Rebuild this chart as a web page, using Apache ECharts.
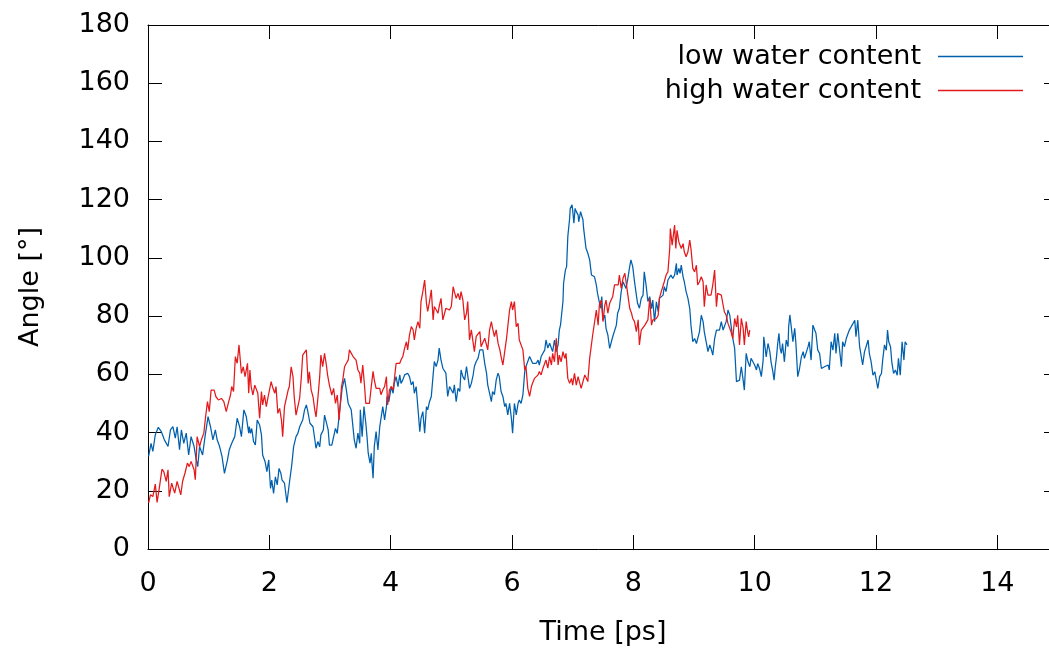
<!DOCTYPE html>
<html>
<head>
<meta charset="utf-8">
<script src="https://cdn.jsdelivr.net/npm/echarts@6/dist/echarts.min.js"></script>
<style>
  html, body { margin: 0; padding: 0; background: #ffffff; }
  #chart { width: 1049px; height: 649px; }
</style>
</head>
<body>
<div id="chart"></div>
<script>
// Dihedral angle vs. simulation time, [time (ps), angle (deg)]
const lowWater = [
  [0.01,31.8],[0.05,36.3],[0.08,33.5],[0.12,39.2],[0.17,41.8],[0.22,40.3],[0.27,37.5],[0.33,35.2],[0.37,40.9],[0.41,42.0],
  [0.45,38.1],[0.48,42.0],[0.52,34.1],[0.55,40.9],[0.59,36.3],[0.63,39.8],[0.67,32.3],[0.71,38.6],[0.76,35.2],[0.79,31.2],
  [0.82,28.3],[0.85,35.2],[0.90,32.3],[0.94,38.6],[0.99,45.5],[1.03,42.0],[1.07,37.5],[1.11,40.9],[1.14,37.5],[1.18,35.2],
  [1.22,31.8],[1.26,26.0],[1.31,30.6],[1.34,34.1],[1.38,36.3],[1.43,38.6],[1.47,44.9],[1.51,42.0],[1.54,38.6],[1.58,47.8],
  [1.62,45.5],[1.66,39.8],
  [1.67,42.0],[1.69,39.7],[1.71,41.4],[1.74,36.9],[1.77,35.7],[1.80,44.3],[1.84,42.6],[1.87,39.2],[1.89,32.3],[1.93,30.0],
  [1.96,26.6],[1.99,30.6],[2.02,20.8],[2.04,23.7],[2.07,19.1],[2.10,24.8],[2.13,22.0],[2.16,27.7],[2.19,26.0],[2.21,23.7],
  [2.25,22.6],[2.29,15.9],[2.33,22.6],[2.37,28.9],[2.40,35.1],[2.44,38.6],[2.47,39.7],[2.50,42.0],[2.53,41.4],[2.55,44.3],
  [2.58,47.7],[2.61,49.5],[2.63,47.7],[2.67,43.2],[2.69,42.6],[2.72,42.0],[2.75,42.0],[2.77,34.6],[2.80,36.9],[2.83,35.1],
  [2.85,39.2],[2.89,40.9],[2.91,46.0],[2.94,45.4],[2.97,40.9],[2.99,35.7],[3.03,35.7],[3.06,36.3],[3.09,41.4],[3.12,39.7],
  [3.16,47.7],[3.20,55.2],[3.24,58.6],[3.27,54.6],[3.30,50.0],
  [3.32,50.6],[3.35,47.8],[3.38,47.2],[3.40,37.5],[3.43,34.6],[3.46,39.8],[3.49,36.3],[3.50,47.8],[3.53,38.6],[3.56,48.9],
  [3.59,43.2],[3.61,38.6],[3.63,32.9],[3.66,29.5],[3.68,32.9],[3.71,24.3],[3.73,35.2],[3.76,40.3],[3.79,34.0],[3.82,42.0],
  [3.84,41.5],[3.87,48.9],[3.90,44.3],[3.93,48.9],[3.94,52.4],[3.97,50.6],[4.01,55.8],[4.04,53.5],[4.06,56.9],[4.09,59.2],
  [4.12,55.8],[4.15,59.8],[4.17,56.9],[4.20,58.1],[4.23,59.8],[4.26,60.4],[4.28,60.4],[4.31,59.2],[4.34,56.4],[4.37,57.5],
  [4.39,53.5],[4.42,55.8],[4.45,48.3],[4.48,40.3],[4.50,44.9],[4.53,47.2],[4.56,39.8],[4.59,48.9],[4.61,47.8],[4.64,50.6],
  [4.67,52.4],[4.70,59.8],[4.72,64.4],[4.75,62.7],[4.78,64.9],[4.80,69.0],[4.83,64.9],[4.86,62.1],[4.89,62.7],[4.91,60.4],
  [4.94,52.4],[4.97,55.8],
  [5.00,55.8],[5.03,53.5],[5.05,56.4],[5.08,50.6],[5.11,55.2],[5.14,54.1],[5.16,61.5],[5.19,59.2],[5.22,58.1],[5.25,62.7],
  [5.27,62.1],[5.30,55.2],[5.33,56.9],[5.36,59.8],[5.38,62.7],[5.41,64.4],[5.44,65.5],[5.47,68.4],[5.49,68.4],[5.52,68.4],
  [5.55,63.8],[5.58,60.4],[5.60,56.4],[5.63,55.8],[5.66,50.6],[5.68,54.1],[5.71,53.0],[5.74,58.1],[5.77,60.4],[5.79,59.2],
  [5.82,54.1],[5.85,52.4],[5.88,48.9],[5.90,50.0],[5.93,46.1],[5.96,50.0],[5.99,44.9],[6.01,39.8],[6.04,50.0],[6.07,46.1],
  [6.10,50.0],[6.12,51.2],[6.15,50.0],[6.18,53.0],[6.21,61.0],[6.23,62.7],[6.26,63.2],[6.29,66.1],[6.32,66.7],[6.34,63.8],
  [6.37,63.2],[6.40,63.8],[6.43,64.9],[6.45,63.2],[6.48,66.1],[6.51,65.5],[6.54,68.4],[6.56,71.8],[6.59,69.0],[6.62,70.7],
  [6.65,70.6],[6.67,67.8],[6.70,71.8],[6.73,67.8],[6.76,70.1],[6.78,75.2],[6.80,77.0],[6.82,77.5],[6.84,85.0],[6.85,91.2],
  [6.88,95.8],[6.90,97.0],[6.92,107.3],[6.95,113.6],[6.96,117.0],[6.99,118.2],[7.00,116.4],[7.02,111.9],[7.04,117.0],[7.06,115.9],
  [7.09,114.7],[7.10,112.4],[7.13,115.9],[7.15,116.4],[7.17,113.0],[7.18,110.2],[7.21,105.0],[7.22,103.3],[7.25,101.6],[7.28,99.3],
  [7.31,94.1],[7.33,93.5],[7.36,93.5],[7.39,90.7],[7.41,87.8],[7.44,87.2],[7.46,82.7],[7.48,86.7],[7.50,78.7],[7.53,80.4],
  [7.55,75.8],[7.58,73.5],[7.61,68.9],[7.63,69.5],[7.66,72.9],[7.69,72.4],[7.72,76.9],[7.74,80.9],[7.77,82.7],[7.80,88.4],
  [7.83,91.8],[7.85,92.4],[7.88,89.5],[7.91,93.0],[7.94,97.0],[7.96,99.3],[7.99,97.0],[8.02,91.8],[8.05,87.2],[8.07,84.4],
  [8.10,82.7],[8.13,86.1],[8.16,87.2],[8.18,95.2],[8.21,90.7],[8.24,85.0],[8.27,86.7],
  [8.30,82.6],[8.32,85.5],[8.35,78.1],[8.38,84.9],[8.41,81.5],[8.43,86.1],[8.46,86.6],[8.49,87.2],[8.51,90.1],[8.54,88.4],
  [8.57,92.4],[8.60,92.9],[8.62,94.1],[8.65,92.9],[8.68,94.1],[8.71,98.1],[8.72,94.1],[8.75,96.4],[8.77,94.7],[8.79,97.5],
  [8.82,93.5],[8.84,91.8],[8.87,88.4],[8.90,86.1],[8.93,82.6],[8.95,76.9],[8.98,71.2],[9.01,72.3],[9.04,70.6],[9.06,71.2],
  [9.09,74.6],[9.12,80.3],[9.15,78.1],[9.17,74.6],[9.20,71.2],[9.23,67.8],[9.26,70.1],[9.28,68.9],[9.31,66.6],[9.34,72.3],
  [9.37,75.2],[9.39,75.8],[9.42,75.2],[9.45,78.1],[9.48,75.2],[9.50,75.8],[9.53,78.1],[9.56,82.1],[9.59,80.3],[9.61,76.9],
  [9.64,72.3],[9.67,68.9],[9.70,57.5],[9.72,57.5],[9.75,58.0],[9.78,62.6],[9.81,58.0],[9.83,54.6],[9.86,67.2],[9.89,64.3],
  [9.92,62.6],[9.94,65.5],[9.97,66.0],[10.00,63.2],[10.03,61.5],[10.05,63.7],[10.08,62.0],[10.11,59.2],[10.14,64.9],[10.15,72.9],
  [10.17,69.5],[10.19,66.0],[10.22,70.6],[10.25,67.8],[10.27,64.3],[10.30,60.9],[10.32,58.0],[10.34,62.6],[10.36,66.0],[10.38,70.6],
  [10.40,74.1],[10.42,68.9],[10.44,67.2],[10.46,70.6],[10.49,64.3],[10.52,71.8],[10.55,69.5],[10.56,76.3],[10.58,80.4],[10.60,76.9],
  [10.63,71.2],[10.66,75.8],[10.68,70.6],[10.71,59.2],[10.74,62.0],[10.77,66.0],[10.80,67.8],[10.82,65.5],[10.85,64.9],[10.88,69.5],
  [10.90,71.2],[10.93,64.9],[10.96,76.9],[10.99,75.2],[11.01,74.1],[11.04,68.3],[11.07,67.2],[11.10,62.0],[11.12,61.5],[11.15,62.6],
  [11.18,62.0],[11.21,63.2],[11.23,61.5],[11.26,71.2],[11.29,68.3],[11.32,74.1],[11.34,67.2],[11.37,74.1],[11.40,74.6],[11.43,62.6],
  [11.45,71.2],[11.48,69.5],[11.51,72.3],[11.54,72.9],
  [11.56,75.2],[11.59,76.3],[11.62,76.3],[11.65,78.6],[11.67,72.9],[11.70,78.6],[11.73,69.5],[11.76,69.5],[11.78,63.2],[11.81,67.7],
  [11.84,67.7],[11.87,71.8],[11.89,67.2],[11.92,64.3],[11.95,59.7],[11.98,60.9],[12.00,58.6],[12.03,55.2],[12.06,59.2],[12.09,60.3],
  [12.11,64.9],[12.14,70.1],[12.17,68.3],[12.19,75.2],[12.21,71.2],[12.24,69.5],[12.26,64.3],[12.29,60.3],[12.32,61.5],[12.35,59.7],
  [12.37,65.5],[12.40,59.7],[12.43,71.2],[12.46,64.9],[12.48,71.2],[12.51,70.1]
];

const highWater = [
  [0.01,15.8],[0.04,18.6],[0.08,18.0],[0.12,22.3],[0.15,16.0],[0.19,21.4],[0.23,27.4],[0.26,26.6],[0.30,23.2],[0.33,27.2],
  [0.35,18.0],[0.39,22.6],[0.44,19.2],[0.48,23.2],[0.51,20.9],[0.54,18.6],[0.57,23.2],[0.61,26.1],[0.65,29.5],[0.68,28.3],
  [0.71,30.1],[0.76,27.2],[0.78,23.8],[0.81,38.6],[0.85,35.2],[0.88,37.5],[0.92,39.8],[0.95,45.5],[0.98,50.6],[1.01,47.2],
  [1.04,54.6],[1.09,54.6],[1.12,52.3],[1.16,51.2],[1.21,51.7],[1.25,50.6],[1.29,47.2],[1.33,50.6],[1.36,52.9],[1.38,55.8],
  [1.41,54.1],[1.44,66.1],[1.47,63.8],[1.50,70.1],[1.54,60.3],[1.57,62.6],[1.60,59.2],[1.64,63.8],[1.66,53.5],
  [1.68,61.5],[1.70,55.8],[1.73,52.9],[1.76,56.3],[1.78,56.9],[1.81,53.5],[1.84,44.9],[1.87,54.1],[1.89,49.5],[1.92,52.9],
  [1.95,48.9],[1.98,52.3],[2.00,51.8],[2.03,57.5],[2.06,55.2],[2.09,53.5],[2.11,55.8],[2.14,46.6],[2.17,48.3],[2.20,44.3],
  [2.22,38.6],[2.25,48.9],[2.28,49.5],[2.31,54.6],[2.33,55.8],[2.36,62.6],[2.39,59.2],[2.41,52.3],[2.44,46.0],[2.47,48.9],
  [2.50,51.8],[2.53,59.8],[2.55,66.6],[2.58,67.2],[2.61,68.4],[2.64,56.9],[2.66,60.9],[2.69,54.6],[2.72,52.3],[2.75,47.7],
  [2.77,45.4],[2.80,51.8],[2.83,59.2],[2.85,66.6],[2.88,62.6],[2.91,67.2],[2.94,63.2],[2.96,59.8],[2.99,56.3],[3.03,52.9],
  [3.06,55.2],[3.09,50.0],[3.12,52.9],[3.15,44.3],[3.19,55.8],[3.21,58.0],[3.24,62.6],[3.27,63.8],[3.30,64.9],
  [3.32,68.4],[3.35,67.8],[3.38,66.1],[3.40,66.7],[3.43,64.9],[3.46,61.5],[3.49,60.4],[3.51,57.0],[3.54,63.2],[3.57,55.8],
  [3.59,50.0],[3.62,50.6],[3.65,50.0],[3.68,55.8],[3.71,61.0],[3.73,58.1],[3.76,55.2],[3.79,55.8],[3.82,55.2],[3.84,53.0],
  [3.87,54.6],[3.90,55.8],[3.93,59.2],[3.95,49.5],[3.98,54.6],[4.01,55.8],[4.04,54.6],[4.06,58.1],[4.09,63.8],[4.12,63.8],
  [4.15,63.8],[4.17,64.9],[4.20,66.1],[4.23,69.0],[4.26,71.2],[4.28,68.4],[4.31,73.5],[4.34,76.4],[4.37,75.3],[4.39,71.8],
  [4.42,75.8],[4.45,78.1],[4.48,75.8],[4.50,85.0],[4.53,88.4],[4.56,92.4],[4.59,84.4],[4.61,81.6],[4.64,85.0],[4.67,89.0],
  [4.70,78.7],[4.72,83.3],[4.75,83.3],[4.78,81.0],[4.80,83.3],[4.83,86.1],[4.86,78.7],[4.89,78.7],[4.91,82.7],[4.94,82.7],
  [4.97,82.1],[5.00,83.3],[5.03,90.1],[5.05,88.4],[5.08,86.1],[5.11,87.8],[5.14,85.6],[5.16,88.4],[5.19,85.6],[5.22,78.7],
  [5.25,81.0],[5.27,85.0],[5.30,71.8],[5.33,75.3],[5.36,74.7],[5.38,67.8],[5.41,73.0],[5.44,73.5],[5.47,74.7],[5.49,69.5],
  [5.52,69.0],[5.55,72.4],[5.58,70.1],[5.60,68.4],[5.63,75.3],[5.66,78.1],[5.68,75.8],[5.71,73.0],[5.74,75.3],[5.77,70.7],
  [5.80,68.4],[5.82,66.1],[5.85,63.2],[5.88,67.8],[5.91,72.4],[5.93,71.8],[5.96,82.1],[5.99,85.0],[6.01,82.1],[6.04,85.0],
  [6.07,76.4],[6.10,77.5],[6.12,71.8],[6.15,71.2],[6.18,68.4],[6.21,61.5],[6.23,62.7],[6.26,55.2],[6.29,52.4],[6.32,55.8],
  [6.34,57.0],[6.37,58.6],[6.40,58.1],[6.43,59.8],[6.45,61.0],[6.48,59.8],[6.51,62.1],[6.54,63.8],[6.56,64.9],[6.59,62.1],
  [6.62,66.1],[6.65,63.2],[6.67,67.2],[6.70,64.3],[6.73,72.4],[6.76,63.2],[6.78,66.6],[6.81,64.3],[6.84,67.8],[6.87,65.5],
  [6.89,67.2],[6.92,58.6],[6.95,56.9],[6.98,58.6],[7.00,56.3],[7.03,60.3],[7.06,56.3],[7.09,59.2],[7.11,57.5],[7.14,55.2],
  [7.17,57.5],[7.20,59.8],[7.22,59.2],[7.25,57.5],[7.28,65.5],[7.31,65.5],[7.33,73.5],[7.36,74.1],[7.39,82.1],[7.42,76.9],
  [7.44,83.8],[7.47,85.5],[7.50,78.1],[7.53,83.8],[7.55,85.5],[7.58,81.0],[7.61,84.4],[7.64,83.8],[7.66,86.7],[7.69,90.7],
  [7.72,91.2],[7.75,90.7],[7.77,94.1],[7.80,89.5],[7.83,93.0],[7.86,94.7],[7.88,91.8],[7.91,87.2],[7.94,82.7],[7.97,81.0],
  [7.99,79.2],[8.02,78.1],[8.05,74.7],[8.08,78.7],[8.10,70.1],[8.13,75.2],[8.16,75.8],[8.19,76.9],[8.21,77.5],[8.24,78.7],
  [8.27,86.1],
  [8.30,76.9],[8.32,78.6],[8.35,78.1],[8.38,79.2],[8.41,80.3],[8.43,86.1],[8.46,88.4],[8.49,88.9],[8.51,91.8],[8.54,94.1],
  [8.57,95.2],[8.60,103.2],[8.61,110.1],[8.64,104.4],[8.66,107.8],[8.68,111.3],[8.70,103.2],[8.72,109.5],[8.75,105.5],[8.77,106.1],
  [8.79,103.2],[8.82,104.9],[8.84,102.1],[8.87,100.4],[8.90,102.1],[8.93,106.1],[8.95,103.2],[8.98,96.4],[9.01,95.2],[9.04,97.5],
  [9.06,90.7],[9.09,91.8],[9.12,93.5],[9.15,91.8],[9.17,83.2],[9.20,90.7],[9.23,87.2],[9.26,87.8],[9.28,87.2],[9.31,90.7],
  [9.34,95.8],[9.37,83.2],[9.39,87.8],[9.42,87.2],[9.45,87.2],[9.48,87.2],[9.50,81.5],[9.53,80.3],[9.56,77.5],[9.59,78.1],
  [9.61,74.6],[9.64,72.3],[9.67,79.2],[9.70,76.3],[9.72,80.3],[9.75,70.1],[9.78,79.2],[9.81,75.8],[9.83,70.1],[9.86,78.1],
  [9.88,75.2],[9.90,72.9],[9.92,75.2]
];

const seriesNames = ['low water content', 'high water content'];
const seriesColors = ['#0060ad', '#e3191c'];

// axis ranges and tick spacing
const xRange = [0, 15], xStep = 2;
const yRange = [0, 180], yStep = 20;

const FONT = 'DejaVu Sans';
const chart = echarts.init(document.getElementById('chart'), null, { renderer: 'canvas' });

// gnuplot-like frame: inward ticks on every side, black border
const tickStyle = { show: true, inside: true, length: 14, lineStyle: { color: '#000', width: 1 } };
const frameLine = { show: true, onZero: false, lineStyle: { color: '#000', width: 1 } };

chart.setOption({
  backgroundColor: '#ffffff',
  animation: false,
  textStyle: { fontFamily: FONT },
  grid: {
    left: 148, top: 25, width: 910, height: 524,
    show: false, containLabel: false, outerBoundsMode: 'none'
  },
  legend: {
    orient: 'vertical', right: 26, top: 43, align: 'right',
    padding: 0, itemWidth: 85, itemHeight: 1.4, itemGap: 7,
    icon: 'rect',
    textStyle: { fontFamily: FONT, fontSize: 27, color: '#000', padding: [0, 12, 0, 0] },
    data: seriesNames
  },
  xAxis: [{
    type: 'value', min: xRange[0], max: xRange[1], interval: xStep,
    name: 'Time [ps]', nameLocation: 'middle', nameGap: 70,
    nameTextStyle: { fontFamily: FONT, fontSize: 27, color: '#000' },
    axisLine: frameLine,
    axisTick: tickStyle,
    axisLabel: {
      margin: 21, fontFamily: FONT, fontSize: 27, color: '#000',
      formatter: v => (v % xStep === 0 ? String(v) : '')
    },
    splitLine: { show: false }
  }, {
    type: 'value', position: 'top', min: xRange[0], max: xRange[1], interval: xStep,
    axisLine: frameLine, axisTick: tickStyle, axisLabel: { show: false }, splitLine: { show: false }
  }],
  yAxis: [{
    type: 'value', min: yRange[0], max: yRange[1], interval: yStep,
    name: 'Angle [°]', nameLocation: 'middle', nameGap: 104, nameRotate: 90,
    nameTextStyle: { fontFamily: FONT, fontSize: 27, color: '#000' },
    axisLine: frameLine,
    axisTick: tickStyle,
    axisLabel: { margin: 18, padding: [4, 0, 0, 0], fontFamily: FONT, fontSize: 27, color: '#000' },
    splitLine: { show: false }
  }, {
    type: 'value', position: 'right', min: yRange[0], max: yRange[1], interval: yStep,
    axisLine: frameLine, axisTick: tickStyle, axisLabel: { show: false }, splitLine: { show: false }
  }],
  series: [
    {
      name: seriesNames[0], type: 'line', data: lowWater,
      xAxisIndex: 0, yAxisIndex: 0,
      showSymbol: false, symbol: 'none', sampling: null,
      lineStyle: { color: seriesColors[0], width: 1.25 }, itemStyle: { color: seriesColors[0] }
    },
    {
      name: seriesNames[1], type: 'line', data: highWater,
      xAxisIndex: 0, yAxisIndex: 0,
      showSymbol: false, symbol: 'none', sampling: null,
      lineStyle: { color: seriesColors[1], width: 1.25 }, itemStyle: { color: seriesColors[1] }
    }
  ]
});
</script>
</body>
</html>
